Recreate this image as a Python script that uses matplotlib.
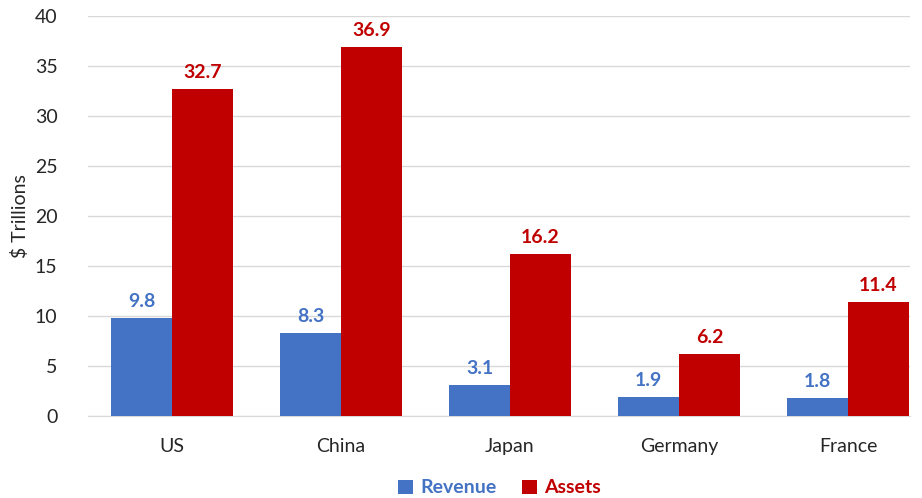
import numpy as np
import matplotlib
matplotlib.use("Agg")
import matplotlib.pyplot as plt

plt.rcParams['font.family'] = ['Lato', 'DejaVu Sans']

# Data
countries = ["US", "China", "Japan", "Germany", "France"]
revenue = [9.8, 8.3, 3.1, 1.9, 1.8]
assets = [32.7, 36.9, 16.2, 6.2, 11.4]
series_names = ["Revenue", "Assets"]

blue = "#4472C4"
red = "#C00000"
text_gray = "#262626"

fig = plt.figure(figsize=(9.22, 4.98), dpi=100)
ax = fig.add_axes([88/922, 82/498, (910-88)/922, 400/498])

x = np.arange(len(countries))
width = 0.36
b1 = ax.bar(x - width/2, revenue, width, color=blue, label=series_names[0], zorder=3)
b2 = ax.bar(x + width/2, assets, width, color=red, label=series_names[1], zorder=3)

for bars, col in [(b1, blue), (b2, red)]:
    for rect in bars:
        h = rect.get_height()
        ax.annotate(f"{h:.1f}", (rect.get_x() + rect.get_width()/2, h),
                    xytext=(0, 6), textcoords="offset points",
                    ha="center", va="bottom", fontsize=14, fontweight="bold", color=col)

ax.set_ylim(0, 40)
ax.set_yticks(range(0, 41, 5))
ax.set_xlim(-0.497, 4.367)
ax.set_xticks(x)
ax.set_xticklabels(countries)
ax.tick_params(axis="both", length=0, labelsize=14, labelcolor=text_gray)
ax.tick_params(axis="x", pad=16)
ax.tick_params(axis="y", pad=22)
ax.set_ylabel("$ Trillions", fontsize=14, color=text_gray, labelpad=4)

ax.grid(axis="y", color="#D9D9D9", linewidth=1, zorder=0)
for s in ["top", "right", "left"]:
    ax.spines[s].set_visible(False)
ax.spines["bottom"].set_color("#D9D9D9")

leg = fig.legend(loc="lower center", bbox_to_anchor=(0.542, -0.032), ncol=2, frameon=False,
                 handlelength=0.75, handleheight=0.75, handletextpad=0.4, columnspacing=1.3,
                 prop={"size": 14, "weight": "bold"})
for t, c in zip(leg.get_texts(), [blue, red]):
    t.set_color(c)

fig.savefig("out.png", dpi=100)
